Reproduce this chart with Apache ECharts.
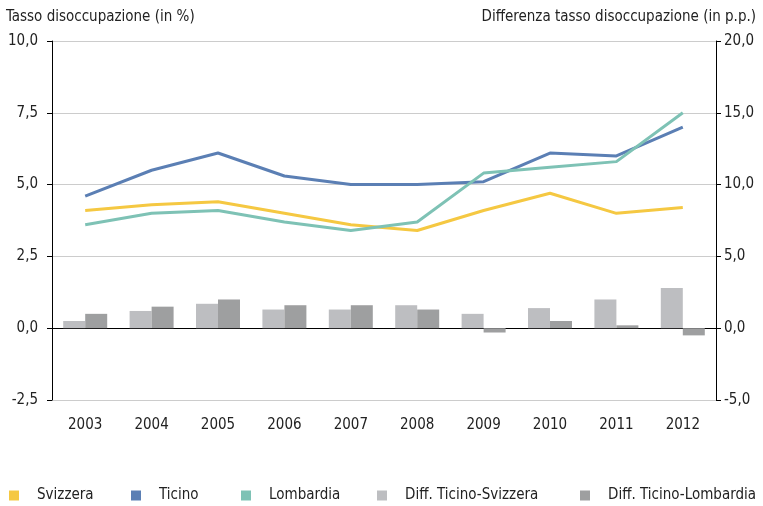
<!DOCTYPE html>
<html>
<head>
<meta charset="utf-8">
<script src="https://cdn.jsdelivr.net/npm/echarts@6/dist/echarts.min.js"></script>
<style>
  html, body { margin: 0; padding: 0; background: #fff; }
  #chart { width: 763px; height: 506px; }
</style>
</head>
<body>
<div id="chart"></div>
<script>
// dati
var years = ['2003', '2004', '2005', '2006', '2007', '2008', '2009', '2010', '2011', '2012'];
var svizzera = [4.1, 4.3, 4.4, 4.0, 3.6, 3.4, 4.1, 4.7, 4.0, 4.2];
var ticino = [4.6, 5.5, 6.1, 5.3, 5.0, 5.0, 5.1, 6.1, 6.0, 7.0];
var lombardia = [3.6, 4.0, 4.1, 3.7, 3.4, 3.7, 5.4, 5.6, 5.8, 7.5];
var diffSvizzera = [0.5, 1.2, 1.7, 1.3, 1.3, 1.6, 1.0, 1.4, 2.0, 2.8];
var diffLombardia = [1.0, 1.5, 2.0, 1.6, 1.6, 1.3, -0.3, 0.5, 0.2, -0.5];

var FONT = '"Liberation Sans Narrow", "DejaVu Sans Condensed", "Noto Sans", sans-serif';
var colors = {
  svizzera: '#F5C842',
  ticino: '#5B7FB4',
  lombardia: '#7EC2B5',
  diffS: '#BDBEC1',
  diffL: '#9E9FA0'
};

function fmt(v) {
  return v.toFixed(1).replace('.', ',');
}

// una legenda per voce, per poterle posizionare come nell'originale
function legendAt(name, left) {
  return {
    data: [name],
    left: left,
    top: 488,
    icon: 'rect',
    itemWidth: 10,
    itemHeight: 10,
    padding: 0,
    selectedMode: false,
    textStyle: { fontFamily: FONT, fontSize: 15, color: '#222', padding: [0, 0, 0, 13] }
  }
}

var chart = echarts.init(document.getElementById('chart'));

var option = {
  backgroundColor: '#fff',
  animation: false,
  title: [
    {
      text: 'Tasso disoccupazione (in %)',
      left: 6, top: 10, padding: 0,
      textStyle: { fontFamily: FONT, fontSize: 15, fontWeight: 'normal', color: '#222' }
    },
    {
      text: 'Differenza tasso disoccupazione (in p.p.)',
      right: 7, top: 10, padding: 0,
      textStyle: { fontFamily: FONT, fontSize: 15, fontWeight: 'normal', color: '#222' }
    }
  ],
  legend: [
    legendAt('Svizzera', 9),
    legendAt('Ticino', 131),
    legendAt('Lombardia', 241),
    legendAt('Diff. Ticino-Svizzera', 377),
    legendAt('Diff. Ticino-Lombardia', 580)
  ],
  grid: { left: 52, right: 47, top: 41, bottom: 106 },
  xAxis: [
    {
      type: 'category',
      data: years,
      boundaryGap: true,
      axisLine: { onZero: true, lineStyle: { color: '#000', width: 1 } },
      axisTick: { show: false },
      axisLabel: { show: false }
    },
    {
      type: 'category',
      data: years,
      boundaryGap: true,
      position: 'bottom',
      axisLine: { show: false },
      axisTick: { show: false },
      axisLabel: { margin: 18, fontFamily: FONT, fontSize: 15, color: '#222' }
    }
  ],
  yAxis: [
    {
      type: 'value',
      min: -2.5, max: 10, interval: 2.5,
      axisLine: { show: true, lineStyle: { color: '#000' } },
      axisTick: { show: true, length: 5, lineStyle: { color: '#000' } },
      splitLine: { show: true, lineStyle: { color: '#ccc', width: 1 } },
      axisLabel: { formatter: fmt, margin: 14, fontFamily: FONT, fontSize: 15, color: '#222' }
    },
    {
      type: 'value',
      min: -5, max: 20, interval: 5,
      position: 'right',
      axisLine: { show: true, lineStyle: { color: '#000' } },
      axisTick: { show: true, length: 5, lineStyle: { color: '#000' } },
      splitLine: { show: false },
      axisLabel: { formatter: fmt, margin: 8, fontFamily: FONT, fontSize: 15, color: '#222' }
    }
  ],
  series: [
    {
      name: 'Diff. Ticino-Svizzera', type: 'bar', yAxisIndex: 1,
      data: diffSvizzera, barWidth: 22, barGap: '0%',
      itemStyle: { color: colors.diffS }
    },
    {
      name: 'Diff. Ticino-Lombardia', type: 'bar', yAxisIndex: 1,
      data: diffLombardia, barWidth: 22, barGap: '0%',
      itemStyle: { color: colors.diffL }
    },
    {
      name: 'Svizzera', type: 'line', data: svizzera, symbol: 'none',
      lineStyle: { color: colors.svizzera, width: 3 }, itemStyle: { color: colors.svizzera }
    },
    {
      name: 'Ticino', type: 'line', data: ticino, symbol: 'none',
      lineStyle: { color: colors.ticino, width: 3 }, itemStyle: { color: colors.ticino }
    },
    {
      name: 'Lombardia', type: 'line', data: lombardia, symbol: 'none',
      lineStyle: { color: colors.lombardia, width: 3 }, itemStyle: { color: colors.lombardia }
    }
  ]
};

chart.setOption(option);
</script>
</body>
</html>
